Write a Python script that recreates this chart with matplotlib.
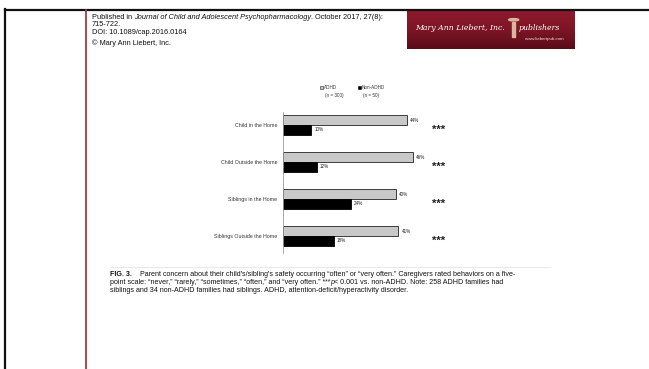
import matplotlib
matplotlib.use("Agg")
import matplotlib.pyplot as plt
from matplotlib.patches import Rectangle
from matplotlib.lines import Line2D
import numpy as np

plt.rcParams['font.family'] = ['Liberation Sans', 'DejaVu Sans']

categories = ["Child in the Home", "Child Outside the Home",
              "Siblings in the Home", "Siblings Outside the Home"]
adhd = [44, 46, 40, 41]
non_adhd = [10, 12, 24, 18]
series_labels = ["ADHD\n(n = 300)", "Non-ADHD\n(n = 50)"]
signif = ["***", "***", "***", "***"]

W, H = 649, 369
fig = plt.figure(figsize=(W / 100, H / 100), dpi=100)
fig.patch.set_facecolor("white")
renderer = fig.canvas.get_renderer()


def fx(px):
    return px / W


def fy(py):
    return 1 - py / H


def runs(x_px, y_px, parts, size):
    """Draw a line made of differently styled pieces, placed one after another."""
    x = x_px
    for txt, style, weight in parts:
        t = fig.text(fx(x), fy(y_px), txt, fontsize=size, style=style,
                     fontweight=weight, va="center", ha="left", color="#111111")
        x += t.get_window_extent(renderer).width


# page frame
fig.add_artist(Line2D([fx(5), fx(5)], [fy(9), 0], color="#111111", lw=1.6))
fig.add_artist(Line2D([fx(5), 1], [fy(9.5), fy(9.5)], color="#111111", lw=1.6))
fig.add_artist(Line2D([fx(86), fx(86)], [fy(10), 0], color="#a33a3f", lw=1.3))

# publisher banner
grad = np.linspace(0, 1, 64).reshape(-1, 1)
bax = fig.add_axes([fx(407), fy(49), fx(575) - fx(407), fy(10) - fy(49)])
bax.imshow(grad, aspect="auto", cmap=matplotlib.colors.LinearSegmentedColormap.from_list(
    "banner", ["#8d1a2c", "#7e1526", "#5a0c19"]), extent=[0, 1, 0, 1])
bax.set_xlim(0, 1)
bax.set_ylim(0, 1)
bax.axis("off")
bax.text(0.05, 0.55, "Mary Ann Liebert, Inc.", color="white", fontsize=5.6,
         family=["DejaVu Serif"], style="italic", va="center", ha="left")
bax.text(0.665, 0.55, "publishers", color="white", fontsize=5.6,
         family=["DejaVu Serif"], style="italic", va="center", ha="left")
bax.text(0.93, 0.26, "www.liebertpub.com", color="#f0d8dc", fontsize=3.2,
         va="center", ha="right")
bax.add_patch(plt.Circle((0.635, 0.75), 0.03, color="#d9b79c", transform=bax.transAxes))
bax.add_patch(Rectangle((0.627, 0.3), 0.016, 0.38, color="#d9b79c", transform=bax.transAxes))

# citation header
runs(92, 17.5, [("Published in ", "normal", "normal"),
                ("Journal of Child and Adolescent Psychopharmacology", "italic", "normal"),
                (". October 2017, 27(8):", "normal", "normal")], 5.3)
runs(92, 25, [("715-722.", "normal", "normal")], 5.3)
runs(92, 32, [("DOI: 10.1089/cap.2016.0164", "normal", "normal")], 5.3)
runs(92, 43, [("\u00a9 Mary Ann Liebert, Inc.", "normal", "normal")], 5.3)

# bar chart
ax = fig.add_axes([fx(283), fy(253), 169 / W, (253 - 112) / H])
y = np.arange(len(categories))
h = 0.26
ax.barh(y - h / 2, adhd, height=h, color="#c8c8c8", edgecolor="#222222", linewidth=0.6)
ax.barh(y + h / 2, non_adhd, height=h, color="#000000", edgecolor="#000000", linewidth=0.6)
for yi, a, n, s in zip(y, adhd, non_adhd, signif):
    ax.text(a + 1.2, yi - h / 2, f"{a}%", fontsize=3.3, va="center", ha="left", color="#222222")
    ax.text(n + 1.2, yi + h / 2, f"{n}%", fontsize=3.3, va="center", ha="left", color="#222222")
    ax.text(55.3, yi + 0.13, s, fontsize=8, va="center", ha="center", color="#222222",
            fontweight="bold")
ax.set_xlim(0, 60)
ax.set_ylim(3.46, -0.35)
ax.set_yticks(y)
ax.set_yticklabels(categories, fontsize=3.8, color="#333333")
ax.tick_params(axis="y", length=0, pad=4)
ax.set_xticks([])
for sp in ["top", "right", "bottom"]:
    ax.spines[sp].set_visible(False)
ax.spines["left"].set_color("#999999")
ax.spines["left"].set_linewidth(0.6)

# legend
fig.add_artist(Rectangle((fx(320), fy(89)), 3 / W, 3 / H, facecolor="#c8c8c8",
                         edgecolor="#222222", linewidth=0.4))
fig.add_artist(Rectangle((fx(358), fy(89)), 3 / W, 3 / H, facecolor="#000000",
                         edgecolor="#000000", linewidth=0.4))
fig.text(fx(323.5), fy(87.5), series_labels[0].split("\n")[0], fontsize=3.3, va="center", ha="left", color="#333333")
fig.text(fx(334), fy(95.5), series_labels[0].split("\n")[1], fontsize=3.3, va="center", ha="center", color="#333333")
fig.text(fx(361.5), fy(87.5), series_labels[1].split("\n")[0], fontsize=3.3, va="center", ha="left", color="#333333")
fig.text(fx(371), fy(95.5), series_labels[1].split("\n")[1], fontsize=3.3, va="center", ha="center", color="#333333")

# caption
fig.add_artist(Line2D([fx(110), fx(550)], [fy(267), fy(267)], color="#e4e4e4", lw=0.6))
runs(110, 275, [("FIG. 3.", "normal", "bold"),
                ("    Parent concern about their child's/sibling's safety occurring \u201coften\u201d or "
                 "\u201cvery often.\u201d Caregivers rated behaviors on a five-", "normal", "normal")], 5.1)
runs(110, 282.7, [("point scale: \u201cnever,\u201d \u201crarely,\u201d \u201csometimes,\u201d \u201coften,\u201d "
                   "and \u201cvery often.\u201d ***", "normal", "normal"),
                  ("p", "italic", "normal"),
                  ("< 0.001 vs. non-ADHD. Note: 258 ADHD families had", "normal", "normal")], 5.1)
runs(110, 290.4, [("siblings and 34 non-ADHD families had siblings. ADHD, "
                   "attention-deficit/hyperactivity disorder.", "normal", "normal")], 5.1)

fig.savefig("out.png", dpi=100, facecolor="white")
